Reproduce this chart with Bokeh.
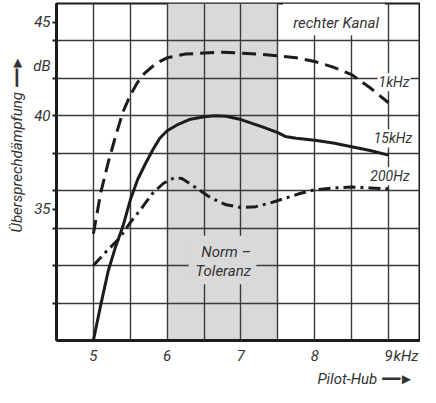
from bokeh.plotting import figure
from bokeh.models import FixedTicker, Label, BoxAnnotation, Title
from bokeh.embed import file_html
from bokeh.resources import INLINE

# ---- data ----
pilot_1k = [5.0, 5.1, 5.2, 5.3, 5.4, 5.5, 5.6, 5.7, 5.85, 6.0, 6.25, 6.5, 6.75, 7.0,
            7.25, 7.5, 7.75, 8.0, 8.25, 8.5, 8.75, 9.0]
daempf_1k = [33.7, 35.9, 37.5, 38.9, 40.2, 41.1, 41.8, 42.3, 42.8, 43.1, 43.3, 43.35, 43.4, 43.35,
             43.3, 43.2, 43.1, 42.9, 42.6, 42.2, 41.5, 40.7]

pilot_15k = [5.0, 5.1, 5.2, 5.3, 5.4, 5.5, 5.6, 5.7, 5.8, 5.9, 6.0, 6.15, 6.3, 6.5, 6.65,
             6.8, 7.0, 7.15, 7.3, 7.5, 7.6, 7.75, 8.0, 8.25, 8.5, 8.75, 9.0]
daempf_15k = [28.0, 29.9, 31.7, 33.0, 34.1, 35.5, 36.6, 37.4, 38.15, 38.8, 39.2, 39.55, 39.8, 39.95, 40.0,
              39.98, 39.8, 39.6, 39.4, 39.1, 38.9, 38.8, 38.7, 38.55, 38.35, 38.15, 37.9]

pilot_200 = [5.0, 5.15, 5.35, 5.5, 5.65, 5.8, 5.95, 6.1, 6.2, 6.3, 6.45, 6.6, 6.8, 7.0,
             7.2, 7.4, 7.6, 7.8, 8.0, 8.25, 8.5, 8.75, 9.0]
daempf_200 = [32.0, 32.65, 33.45, 34.3, 35.05, 35.85, 36.4, 36.7, 36.65, 36.4, 36.0, 35.6, 35.25, 35.1,
              35.15, 35.35, 35.6, 35.85, 36.05, 36.15, 36.2, 36.15, 36.1]

x_ticks = [5, 6, 7, 8, 9, 9.237]
x_tick_labels = {5: "5", 6: "6", 7: "7", 8: "8", 9: "9", 9.237: "kHz"}
y_ticks = [35, 40, 42.68, 45]
y_tick_labels = {35: "35", 40: "40", 42.68: "dB", 45: "45"}
y_tick_marks = [30, 32, 34, 35, 36, 38, 40, 42, 44, 45]
x_grid = [5, 5.5, 6, 6.5, 7, 7.5, 8, 8.5, 9, 9.5]
y_grid = [30, 32, 34, 36, 38, 40, 42, 44]
norm_from, norm_to = 6.0, 7.5

FONT = "Roboto"
INK = "#1c1c1c"
TXT = "#333333"
SHADE = "#d9d9d9"

p = figure(width=420, height=387, x_range=(4.5, 9.42), y_range=(28, 46),
           min_border_left=55, min_border_right=1, min_border_top=3, min_border_bottom=44,
           output_backend="svg", toolbar_location=None)
p.background_fill_color = "white"
p.border_fill_color = "white"
p.outline_line_color = INK
p.outline_line_width = 2

# shaded tolerance band
p.add_layout(BoxAnnotation(left=norm_from, right=norm_to, fill_color=SHADE, fill_alpha=1,
                           line_alpha=0, level="image"))

# grids
p.xgrid.ticker = FixedTicker(ticks=x_grid)
p.ygrid.ticker = FixedTicker(ticks=y_grid)
for g in (p.xgrid, p.ygrid):
    g.grid_line_color = "#3a3a3a"
    g.grid_line_width = 1.4

# axes
p.xaxis.ticker = FixedTicker(ticks=x_ticks)
p.xaxis.major_label_overrides = x_tick_labels
p.yaxis.ticker = FixedTicker(ticks=y_ticks, minor_ticks=y_tick_marks)
p.yaxis.major_label_overrides = y_tick_labels
for ax in (p.xaxis, p.yaxis):
    ax.axis_line_color = INK
    ax.axis_line_width = 3
    ax.major_tick_line_color = None
    ax.major_label_text_font = FONT
    ax.major_label_text_font_style = "italic"
    ax.major_label_text_font_size = "15px"
    ax.major_label_text_color = TXT
p.xaxis.minor_tick_line_color = None
p.xaxis.major_tick_out = 0
p.xaxis.major_tick_in = 0
p.xaxis.major_label_standoff = 6
p.yaxis.major_tick_out = 4
p.yaxis.major_tick_in = 0
p.yaxis.minor_tick_out = 4
p.yaxis.minor_tick_in = 0
p.yaxis.minor_tick_line_width = 2
p.yaxis.minor_tick_line_color = INK
p.yaxis.major_label_standoff = 2

# axis titles (with arrows)
p.add_layout(Title(text="Übersprechdämpfung  ━━►", align="left", offset=108,
                   text_font=FONT, text_font_style="italic", text_font_size="15px",
                   text_color=TXT, standoff=10), "left")
p.add_layout(Title(text="Pilot-Hub  ━━►", align="right", offset=2,
                   text_font=FONT, text_font_style="italic", text_font_size="15px",
                   text_color=TXT, standoff=0), "below")

# curves
p.line(pilot_1k, daempf_1k, line_width=3, line_color=INK, line_dash="14 7", line_join="round")
p.line(pilot_15k, daempf_15k, line_width=3, line_color=INK, line_join="round")
p.line(pilot_200, daempf_200, line_width=3, line_color=INK, line_dash="12 5 3 5", line_join="round")

def lab(x, y, text, size="15px", bg=None):
    kw = dict(x=x, y=y, text=text, text_font=FONT, text_font_style="italic",
              text_font_size=size, text_color=TXT, text_align="center",
              text_baseline="middle")
    if bg is not None:
        kw.update(background_fill_color=bg, background_fill_alpha=1, padding=1)
    p.add_layout(Label(**kw))

# curve labels
lab(9.075, 41.8, "1kHz", size="14px", bg="white")
lab(9.06, 38.79, "15kHz", size="14px", bg="white")
lab(9.02, 36.77, "200Hz", size="14px", bg="white")

# channel note
p.add_layout(BoxAnnotation(left=7.57, right=8.95, bottom=44.3, top=46, fill_color="white",
                           fill_alpha=1, line_alpha=0))
lab(8.29, 44.95, "rechter Kanal")

# tolerance label
p.add_layout(BoxAnnotation(left=6.29, right=7.21, bottom=31.0, top=33.6, fill_color=SHADE,
                           fill_alpha=1, line_alpha=0))
lab(6.8, 32.75, "Norm –")
lab(6.76, 31.7, "Toleranz")

open("out.html", "w").write(file_html(p, INLINE))
